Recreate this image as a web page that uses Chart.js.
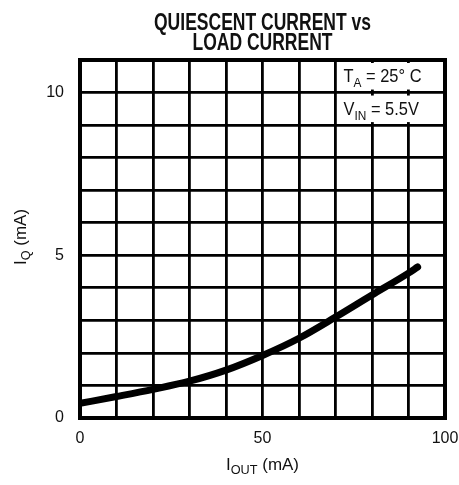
<!DOCTYPE html>
<html>
<head>
<meta charset="utf-8">
<script src="https://cdn.jsdelivr.net/npm/chart.js@4/dist/chart.umd.min.js"></script>
<style>
  html, body { margin: 0; padding: 0; background: #fff; }
  #wrap { width: 459px; height: 485px; }
</style>
</head>
<body>
<div id="wrap"><canvas id="c" width="459" height="485"></canvas></div>
<script>
// Load current (mA) and quiescent current (mA) along the curve
const loadCurrent = [0, 10, 20, 30, 40, 50, 60, 70, 80, 90, 92.5];
const quiescentCurrent = [0.45, 0.66, 0.88, 1.13, 1.47, 1.92, 2.45, 3.1, 3.78, 4.45, 4.64];

// Axis tick labels that are printed
const xTickLabels = [0, 50, 100];
const yTickLabels = [0, 5, 10];

const titleLines = ['QUIESCENT CURRENT vs', 'LOAD CURRENT'];
const conditionLines = [
  [{ t: 'T' }, { t: 'A', sub: true }, { t: ' = 25° C' }],
  [{ t: 'V' }, { t: 'IN', sub: true }, { t: ' = 5.5V' }]
];

const SANS = '"Liberation Sans", Arial, sans-serif';

// Width of a run of text pieces (subscripts use a smaller size)
function runsWidth(ctx, runs, size, subSize, weight) {
  let w = 0;
  for (const r of runs) {
    ctx.font = `${weight} ${r.sub ? subSize : size}px ${SANS}`;
    w += ctx.measureText(r.t).width;
  }
  return w;
}

// Draw text pieces condensed horizontally by sx, starting at (x, y) on the baseline
function drawRuns(ctx, runs, x, y, size, subSize, weight, sx) {
  ctx.save();
  ctx.translate(x, y);
  ctx.scale(sx, 1);
  let cx = 0;
  for (const r of runs) {
    ctx.font = `${weight} ${r.sub ? subSize : size}px ${SANS}`;
    ctx.fillText(r.t, cx, r.sub ? size * 0.28 : 0);
    cx += ctx.measureText(r.t).width;
  }
  ctx.restore();
}

const decorations = {
  id: 'decorations',
  beforeDatasetsDraw(chart) {
    const { ctx, scales: { x, y } } = chart;
    ctx.save();
    // Blank the grid under the conditions box, leaving short stubs of the hidden lines
    ctx.fillStyle = '#fff';
    const left = x.getPixelForValue(70) + 2;
    const right = x.getPixelForValue(100) - 2;
    for (const [lo, hi] of [[10, 11], [9, 10]]) {
      const top = y.getPixelForValue(hi) + 3;
      const bottom = y.getPixelForValue(lo) - 3;
      ctx.fillRect(left, top, right - left, bottom - top);
    }
    ctx.restore();
  },
  afterDraw(chart) {
    const { ctx, chartArea: a, scales: { x, y } } = chart;
    ctx.save();
    // Frame
    ctx.strokeStyle = '#000';
    ctx.lineWidth = 4;
    ctx.strokeRect(a.left, a.top, a.right - a.left, a.bottom - a.top);

    ctx.fillStyle = '#111';
    ctx.textBaseline = 'alphabetic';
    ctx.textAlign = 'left';
    const cx = (a.left + a.right) / 2;

    // Title, in a condensed bold face
    const tSize = 24;
    const tRuns1 = [{ t: titleLines[0] }];
    const tRuns2 = [{ t: titleLines[1] }];
    const w1 = runsWidth(ctx, tRuns1, tSize, tSize, 'bold');
    const w2 = runsWidth(ctx, tRuns2, tSize, tSize, 'bold');
    const tsx = 217 / w1;
    drawRuns(ctx, tRuns1, cx - (w1 * tsx) / 2, 30, tSize, tSize, 'bold', tsx);
    drawRuns(ctx, tRuns2, cx - (w2 * tsx) / 2, 50, tSize, tSize, 'bold', tsx);

    // Conditions text
    const bx = x.getPixelForValue(70) + 8;
    const rows = [[10, 11], [9, 10]];
    const cw = runsWidth(ctx, conditionLines[0], 18, 13, 'normal');
    const csx = 78 / cw;
    conditionLines.forEach((runs, i) => {
      const mid = (y.getPixelForValue(rows[i][0]) + y.getPixelForValue(rows[i][1])) / 2;
      drawRuns(ctx, runs, bx, mid + 6, 18, 13, 'normal', csx);
    });

    // X axis title
    const xRuns = [{ t: 'I' }, { t: 'OUT', sub: true }, { t: ' (mA)' }];
    const xw = runsWidth(ctx, xRuns, 16, 12, 'normal');
    const asx = 73 / xw;
    drawRuns(ctx, xRuns, cx - (xw * asx) / 2, 470, 16, 12, 'normal', asx);

    // Y axis title, rotated
    const yRuns = [{ t: 'I' }, { t: 'Q', sub: true }, { t: ' (mA)' }];
    const yw = runsWidth(ctx, yRuns, 16, 12, 'normal');
    ctx.translate(26, 237);
    ctx.rotate(-Math.PI / 2);
    drawRuns(ctx, yRuns, -(yw * asx) / 2, 0, 16, 12, 'normal', asx);
    ctx.restore();
  }
};

new Chart(document.getElementById('c'), {
  type: 'line',
  data: {
    datasets: [{
      data: loadCurrent.map((v, i) => ({ x: v, y: quiescentCurrent[i] })),
      borderColor: '#000',
      borderWidth: 7,
      borderCapStyle: 'round',
      borderJoinStyle: 'round',
      cubicInterpolationMode: 'monotone',
      pointRadius: 0,
      fill: false
    }]
  },
  options: {
    responsive: false,
    animation: false,
    devicePixelRatio: 1,
    layout: { padding: { left: 0, top: 60, right: 14, bottom: 0 } },
    plugins: { legend: { display: false }, title: { display: false }, tooltip: { enabled: false } },
    scales: {
      x: {
        type: 'linear',
        min: 0,
        max: 100,
        afterFit(scale) {
          scale.height = 67;
          scale.paddingLeft = 0;
          scale.paddingRight = 0;
        },
        ticks: {
          stepSize: 10,
          autoSkip: false,
          maxRotation: 0,
          padding: 11,
          color: '#111',
          font: { family: SANS, size: 16 },
          callback: v => (xTickLabels.includes(v) ? String(v) : '')
        },
        grid: { color: '#000', lineWidth: 2.8, drawTicks: false },
        border: { color: '#000', width: 4 }
      },
      y: {
        type: 'linear',
        min: 0,
        max: 11,
        afterFit(scale) {
          scale.width = 80;
          scale.paddingTop = 0;
          scale.paddingBottom = 0;
        },
        ticks: {
          stepSize: 1,
          autoSkip: false,
          padding: 16,
          color: '#111',
          font: { family: SANS, size: 16 },
          callback: v => (yTickLabels.includes(v) ? String(v) : '')
        },
        grid: { color: '#000', lineWidth: 2.8, drawTicks: false },
        border: { color: '#000', width: 4 }
      }
    }
  },
  plugins: [decorations]
});
</script>
</body>
</html>
